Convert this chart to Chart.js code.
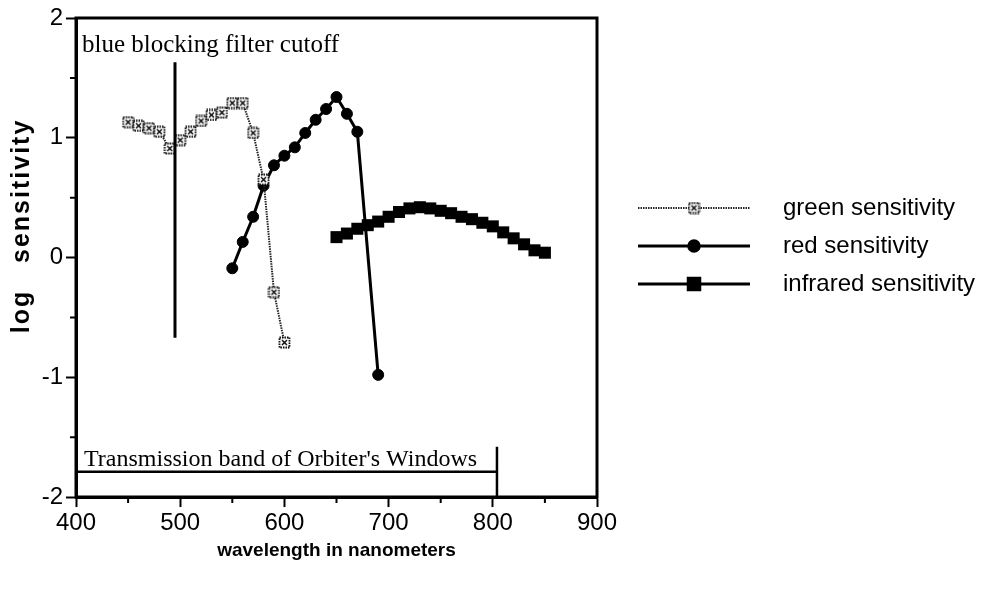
<!DOCTYPE html>
<html><head><meta charset="utf-8">
<script src="https://cdn.jsdelivr.net/npm/chart.js@4"></script>
<style>html,body{margin:0;padding:0;background:#fff}</style>
</head><body>
<canvas id="c" width="984" height="590"></canvas>
<script>
// ---- data ----
const greenWavelengths = [450,460,470,480,490,500,510,520,530,540,550,560,570,580,590,600];
const greenValues      = [1.13,1.10,1.08,1.05,0.91,0.98,1.05,1.14,1.19,1.21,1.29,1.29,1.04,0.65,-0.29,-0.71];
const redWavelengths   = [550,560,570,580,590,600,610,620,630,640,650,660,670,690];
const redValues        = [-0.09,0.13,0.34,0.60,0.77,0.85,0.92,1.04,1.15,1.24,1.34,1.20,1.05,-0.98];
const irWavelengths    = [650,660,670,680,690,700,710,720,730,740,750,760,770,780,790,800,810,820,830,840,850];
const irValues         = [0.17,0.20,0.24,0.27,0.30,0.34,0.38,0.41,0.42,0.41,0.39,0.37,0.34,0.32,0.29,0.26,0.21,0.16,0.11,0.06,0.04];
const seriesLabels     = ['green sensitivity','red sensitivity','infrared sensitivity'];
const xTickValues      = [400,500,600,700,800,900];
const yTickValues      = [-2,-1,0,1,2];
const xMinorTicks      = [450,550,650,750,850];
const yMinorTicks      = [-1.5,-0.5,0.5,1.5];
const xTitle           = 'wavelength in nanometers';
const yTitle           = 'log   sensitivity';
// annotations (data units)
const filterCutoff     = {x:495, yTop:1.63, yBottom:-0.67, label:'blue blocking filter cutoff'};
const windowBand       = {xStart:400, xEnd:804, y:-1.79, yTop:-1.58, label:"Transmission band of Orbiter's Windows"};

const toPts = (xs, ys) => xs.map((x,i)=>({x, y:ys[i]}));

// custom hollow marker for the green series
function makeGreenMarker(){
  const c = document.createElement('canvas');
  c.width = 13; c.height = 13;
  const g = c.getContext('2d');
  g.fillStyle = '#fff'; g.fillRect(1.5,1.5,10,10);
  g.strokeStyle = '#000'; g.lineWidth = 1.8;
  g.setLineDash([1.5,1]);
  g.strokeRect(1.5,1.5,10,10);
  g.setLineDash([]);
  g.lineWidth = 1.4;
  g.beginPath(); g.moveTo(4,4); g.lineTo(9,9); g.moveTo(9,4); g.lineTo(4,9); g.stroke();
  return c;
}
const greenMarker = makeGreenMarker();

const FONT = "'Liberation Sans', Arial, Helvetica, sans-serif";
const SERIF = "'Liberation Serif', 'Times New Roman', serif";

const extras = {
  id:'extras',
  afterDraw(chart){
    const {ctx, chartArea:a, scales:{x, y}} = chart;
    ctx.save();
    // frame
    ctx.strokeStyle = '#000'; ctx.lineWidth = 3;
    ctx.strokeRect(a.left, a.top, a.right-a.left, a.bottom-a.top);
    // minor ticks
    ctx.lineWidth = 2;
    ctx.beginPath();
    yMinorTicks.forEach(v=>{ const py=y.getPixelForValue(v); ctx.moveTo(a.left-6,py); ctx.lineTo(a.left,py); });
    xMinorTicks.forEach(v=>{ const px=x.getPixelForValue(v); ctx.moveTo(px,a.bottom); ctx.lineTo(px,a.bottom+6); });
    ctx.stroke();
    // filter cutoff line
    ctx.lineWidth = 3;
    ctx.beginPath();
    const fx = x.getPixelForValue(filterCutoff.x);
    ctx.moveTo(fx, y.getPixelForValue(filterCutoff.yTop));
    ctx.lineTo(fx, y.getPixelForValue(filterCutoff.yBottom));
    ctx.stroke();
    // window band
    ctx.lineWidth = 2.5;
    ctx.beginPath();
    const wy = y.getPixelForValue(windowBand.y);
    const wx = x.getPixelForValue(windowBand.xEnd);
    ctx.moveTo(x.getPixelForValue(windowBand.xStart), wy);
    ctx.lineTo(wx, wy);
    ctx.moveTo(wx, y.getPixelForValue(windowBand.yTop));
    ctx.lineTo(wx, a.bottom);
    ctx.stroke();
    // annotation text
    ctx.fillStyle = '#000';
    ctx.textBaseline = 'alphabetic'; ctx.textAlign = 'left';
    ctx.font = '25px ' + SERIF;
    ctx.fillText(filterCutoff.label, a.left+6, a.top+34);
    ctx.font = '24px ' + SERIF;
    ctx.fillText(windowBand.label, a.left+8, wy-6);
    // y title
    ctx.save();
    ctx.translate(22, 226);
    ctx.rotate(-Math.PI/2);
    ctx.font = 'bold 25px ' + FONT;
    ctx.letterSpacing = '2px';
    ctx.textAlign = 'center'; ctx.textBaseline = 'middle';
    ctx.fillText(yTitle, 0, 0);
    ctx.restore();
    // legend
    const rows = [208, 246, 284];
    const x0 = 638, x1 = 750, xm = 694;
    chart.data.datasets.forEach((ds,i)=>{
      const ry = rows[i];
      ctx.save();
      ctx.strokeStyle = ds.borderColor; ctx.lineWidth = ds.borderWidth;
      ctx.setLineDash(ds.borderDash || []);
      ctx.beginPath(); ctx.moveTo(x0,ry); ctx.lineTo(x1,ry); ctx.stroke();
      ctx.restore();
      Chart.helpers.drawPoint(ctx, {pointStyle: ds.pointStyle, radius: ds.pointRadius, borderWidth: 1, rotation: 0}, xm, ry);
      ctx.fillStyle = '#000';
      ctx.font = '24px ' + FONT;
      ctx.textBaseline = 'middle';
      ctx.fillText(ds.label, 783, ry);
    });
    ctx.restore();
  }
};

new Chart(document.getElementById('c'), {
  type:'line',
  data:{
    datasets:[
      {label:seriesLabels[0], data:toPts(greenWavelengths, greenValues), borderColor:'#222', borderWidth:2, borderDash:[1.5,1],
       pointStyle:greenMarker, pointRadius:6, backgroundColor:'#fff', pointBorderColor:'#000', tension:0},
      {label:seriesLabels[1], data:toPts(redWavelengths, redValues), borderColor:'#000', borderWidth:3,
       pointStyle:'circle', pointRadius:5.5, backgroundColor:'#000', pointBorderColor:'#000', pointBorderWidth:1, tension:0},
      {label:seriesLabels[2], data:toPts(irWavelengths, irValues), borderColor:'#000', borderWidth:3,
       pointStyle:'rect', pointRadius:8.5, backgroundColor:'#000', pointBorderColor:'#000', pointBorderWidth:0, tension:0}
    ]
  },
  options:{
    responsive:false, animation:false, devicePixelRatio:1,
    layout:{padding:{top:18, right:387, bottom:0, left:0}},
    plugins:{legend:{display:false}, tooltip:{enabled:false}},
    scales:{
      x:{type:'linear', min:400, max:900,
        afterBuildTicks(s){ s.ticks = xTickValues.map(v=>({value:v})); },
        afterFit(s){ s.height = 93; },
        ticks:{color:'#000', font:{family:FONT, size:24}, padding:2, autoSkip:false, maxRotation:0},
        grid:{drawOnChartArea:false, tickLength:10, tickWidth:2, tickColor:'#000'},
        border:{display:true, width:3, color:'#000'},
        title:{display:true, text:xTitle, color:'#000', font:{family:FONT, size:19, weight:'bold'}, padding:{top:0,bottom:28}}
      },
      y:{type:'linear', min:-2, max:2,
        afterBuildTicks(s){ s.ticks = yTickValues.map(v=>({value:v})); },
        afterFit(s){ s.width = 76; },
        ticks:{color:'#000', font:{family:FONT, size:24}, padding:3, autoSkip:false},
        grid:{drawOnChartArea:false, tickLength:10, tickWidth:2, tickColor:'#000'},
        border:{display:true, width:3, color:'#000'},
        title:{display:false}
      }
    }
  },
  plugins:[extras]
});
</script>
</body></html>
